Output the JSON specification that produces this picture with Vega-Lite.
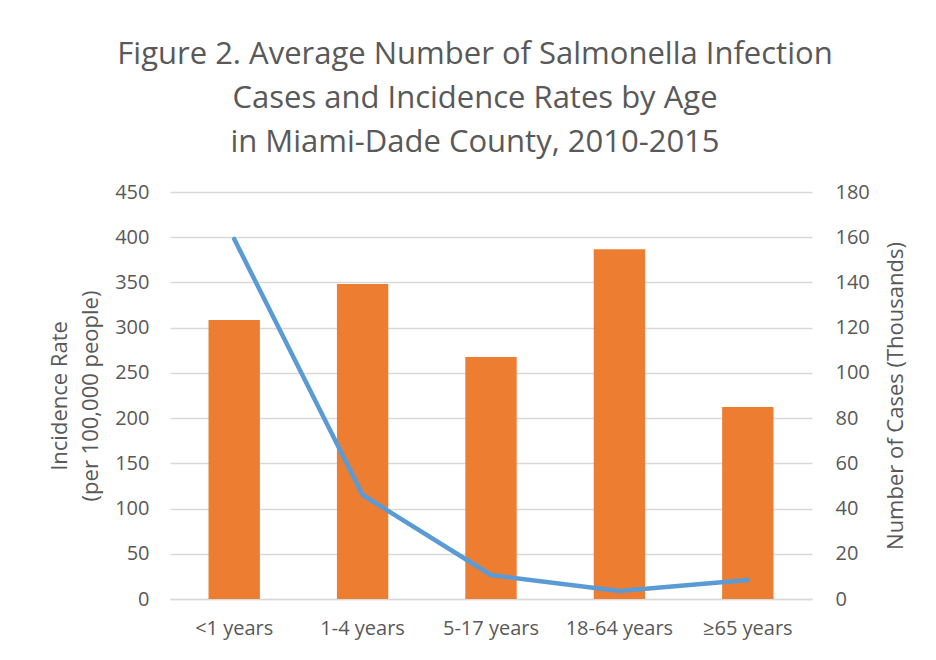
{
  "$schema": "https://vega.github.io/schema/vega-lite/v6.json",
  "width": 642,
  "height": 407,
  "autosize": {"type": "none"},
  "padding": {"left": 170, "top": 192, "right": 124, "bottom": 61},
  "background": "white",
  "title": {
    "text": ["Figure 2. Average Number of Salmonella Infection", "Cases and Incidence Rates by Age", "in Miami-Dade County, 2010-2015"],
    "font": "Open Sans",
    "fontSize": 31,
    "fontWeight": "normal",
    "color": "#595959",
    "lineHeight": 44,
    "anchor": "middle",
    "dx": -16,
    "offset": 23
  },
  "data": {
    "values": [
      {"age": "<1 years", "cases": 123.4, "rate": 398},
      {"age": "1-4 years", "cases": 139.3, "rate": 115},
      {"age": "5-17 years", "cases": 107.0, "rate": 26.5},
      {"age": "18-64 years", "cases": 154.7, "rate": 8.8},
      {"age": "≥65 years", "cases": 84.9, "rate": 21}
    ]
  },
  "encoding": {
    "x": {
      "field": "age",
      "type": "nominal",
      "sort": null,
      "scale": {"paddingInner": 0.6, "paddingOuter": 0.3},
      "axis": {
        "title": null,
        "labelAngle": 0,
        "labelFont": "Open Sans",
        "labelFontSize": 20,
        "labelColor": "#595959",
        "labelPadding": 19,
        "ticks": false,
        "domainColor": "#D9D9D9",
        "domainWidth": 1.5
      }
    }
  },
  "layer": [
    {
      "mark": {"type": "bar", "color": "#ED7D31"},
      "encoding": {
        "y": {
          "field": "cases",
          "type": "quantitative",
          "scale": {"domain": [0, 180], "nice": false},
          "axis": {
            "orient": "right",
            "values": [0, 20, 40, 60, 80, 100, 120, 140, 160, 180],
            "title": "Number of Cases (Thousands)",
            "titleFont": "Open Sans",
            "titleFontSize": 22,
            "titleFontWeight": "normal",
            "titleColor": "#595959",
            "titleAngle": 270,
            "titlePadding": 38,
            "labelFont": "Open Sans",
            "labelFontSize": 20,
            "labelColor": "#595959",
            "labelPadding": 23,
            "ticks": false,
            "domain": false,
            "grid": false
          }
        }
      }
    },
    {
      "mark": {"type": "line", "color": "#5B9BD5", "strokeWidth": 4.5, "strokeCap": "round", "strokeJoin": "round"},
      "encoding": {
        "y": {
          "field": "rate",
          "type": "quantitative",
          "scale": {"domain": [0, 450], "nice": false},
          "axis": {
            "orient": "left",
            "values": [0, 50, 100, 150, 200, 250, 300, 350, 400, 450],
            "title": ["Incidence Rate", "(per 100,000 people)"],
            "titleFont": "Open Sans",
            "titleFontSize": 22,
            "titleFontWeight": "normal",
            "titleColor": "#595959",
            "titleLineHeight": 31,
            "titlePadding": 12,
            "labelFont": "Open Sans",
            "labelFontSize": 20,
            "labelColor": "#595959",
            "labelPadding": 21,
            "ticks": false,
            "domain": false,
            "grid": true,
            "gridColor": "#D9D9D9",
            "gridWidth": 1.5
          }
        }
      }
    }
  ],
  "resolve": {"scale": {"y": "independent"}},
  "config": {"view": {"stroke": null}}
}
